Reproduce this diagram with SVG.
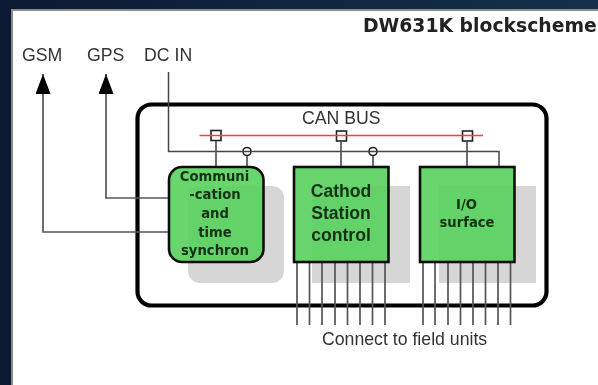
<svg xmlns="http://www.w3.org/2000/svg" width="598" height="385" viewBox="0 0 598 385">
<defs>
<linearGradient id="bg" x1="0" y1="0" x2="1" y2="0"><stop offset="0" stop-color="#0b1a32"/><stop offset="1" stop-color="#14304a"/></linearGradient>
<marker id="arrow" markerUnits="userSpaceOnUse" markerWidth="22" markerHeight="16" refX="20" refY="7.500" orient="auto" viewBox="0 0 22 16"><path d="M0 0L20 7.500L0 15Z" fill="#000"/></marker>
<filter id="soft" x="0" y="0" width="100%" height="100%"><feGaussianBlur stdDeviation="0.450"/></filter>
</defs>
<style>
.t{font-family:"Liberation Sans",Arial,sans-serif;fill:#333;font-size:17.700px}
.b{font-family:"DejaVu Sans",Verdana,sans-serif;font-weight:700;fill:#143014;text-anchor:middle;font-size:13.200px}
.c{font-family:"Liberation Sans",Arial,sans-serif;font-weight:700;fill:#143014;text-anchor:middle;font-size:17.600px}
.shadow{fill:#d6d6d6}
.box{fill:#58d25d;fill-opacity:.9;stroke:#111;stroke-width:2.600}
.w{fill:none;stroke:#444;stroke-width:1.500}
.f{fill:none;stroke:#555;stroke-width:1.700}
.tap{fill:#fff;stroke:#222;stroke-width:1.600}
</style>
<rect width="598" height="385" fill="url(#bg)"/>
<g filter="url(#soft)">
<rect x="11" y="9" width="587" height="376" fill="#fff"/>
<path d="M11.500 385V9.500H598" fill="none" stroke="#8c8c8c" stroke-width="3"/>
<text x="363" y="32" font-family="DejaVu Sans,Verdana,sans-serif" font-weight="700" font-size="18.800" fill="#222">DW631K blockscheme</text>
<g id="enclosure"><rect x="137.500" y="104.500" width="409" height="201" rx="14" fill="#fff" stroke="#000" stroke-width="4.200"/></g>
<g id="shadows">
<rect class="shadow" x="188" y="186" width="96" height="97" rx="12"/>
<rect class="shadow" x="312" y="186" width="98" height="97"/>
<rect class="shadow" x="439" y="186" width="97" height="97"/>
</g>
<g id="taps">
<rect class="tap" x="211" y="130.500" width="10" height="10"/><rect class="tap" x="336.500" y="131" width="10" height="10"/><rect class="tap" x="462.500" y="131" width="10" height="10"/>
<circle class="tap" cx="247" cy="151.500" r="4"/><circle class="tap" cx="373" cy="151.500" r="4"/>
</g>
<g id="connectors">
<path class="f" d="M168 232H43V74" marker-end="url(#arrow)"/>
<path class="f" d="M168 198H106V74" marker-end="url(#arrow)"/>
<path class="w" d="M168.500 72V151.500H499V167"/>
<path d="M199.500 135.500H483" fill="none" stroke="#ff3b44" stroke-width="1.600"/>
<path class="f" d="M216 141V167M247 156V167M341 141V167M373 156V167M467 141V167"/>
<path class="f" d="M297 262V325M309.500 262V325M322 262V325M335 262V325M347.500 262V325M360 262V325M372.500 262V325M385 262V325M423 262V325M435 262V325M448 262V325M460.500 262V325M473 262V325M485.500 262V325M498 262V325M510.500 262V325"/>
</g>
<g id="node-can"><text class="t" x="302" y="124">CAN BUS</text></g>
<g id="node-comm"><rect class="box" x="169" y="167" width="94.500" height="95" rx="13"/>
<text class="b" x="214.500" y="180.500">Communi</text><text class="b" x="215" y="199">-cation</text><text class="b" x="215" y="218">and</text><text class="b" x="215" y="236.500">time</text><text class="b" x="215" y="255">synchron</text></g>
<g id="node-cathod"><rect class="box" x="294" y="167" width="94.500" height="95"/>
<text class="c" x="341" y="197">Cathod</text><text class="c" x="341" y="219">Station</text><text class="c" x="341" y="241">control</text></g>
<g id="node-io"><rect class="box" x="420" y="167" width="94.500" height="95"/>
<text class="b" x="466.500" y="209">I/O</text><text class="b" x="467" y="227">surface</text></g>
<g id="labels">
<text class="t" x="22" y="61">GSM</text><text class="t" x="87" y="61">GPS</text><text class="t" x="144" y="61">DC IN</text>
<text class="t" x="322" y="344.500">Connect to field units</text>
</g>
</g>
</svg>
